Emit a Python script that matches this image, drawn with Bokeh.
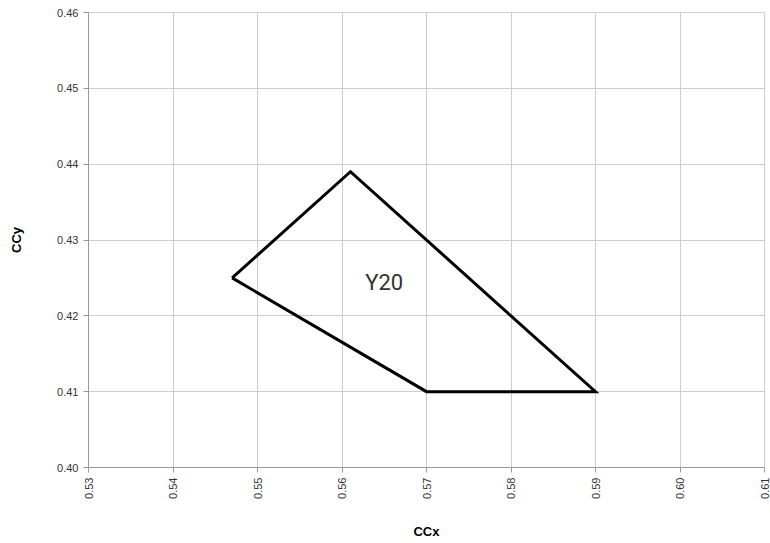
import math
from bokeh.plotting import figure
from bokeh.models import Range1d, FixedTicker, PrintfTickFormatter
from bokeh.core.properties import value
from bokeh.embed import file_html
from bokeh.resources import INLINE

# Data
poly_x = [0.547, 0.561, 0.590, 0.570, 0.547]
poly_y = [0.425, 0.439, 0.410, 0.410, 0.425]
label_text = ["Y20"]
label_x = [0.565]
label_y = [0.4244]
x_ticks = [0.53, 0.54, 0.55, 0.56, 0.57, 0.58, 0.59, 0.60, 0.61]
y_ticks = [0.40, 0.41, 0.42, 0.43, 0.44, 0.45, 0.46]

p = figure(width=770, height=543, output_backend="svg", toolbar_location=None,
           x_range=Range1d(0.53, 0.61), y_range=Range1d(0.40, 0.46),
           min_border_left=88, min_border_right=6, min_border_top=12, min_border_bottom=76)

p.line(poly_x, poly_y, line_color="black", line_width=3, line_join="miter")
p.text(x=label_x, y=label_y, text=label_text, text_font=value("Roboto"),
       text_font_size="22px", text_color="#333333", text_align="center",
       text_baseline="middle")

for ax in (p.xaxis[0], p.yaxis[0]):
    ax.major_label_text_font = "Liberation Sans"
    ax.major_label_text_font_size = "11px"
    ax.major_label_text_color = "#333333"
    ax.axis_line_color = "#999999"
    ax.major_tick_line_color = "#999999"
    ax.major_tick_out = 5
    ax.major_tick_in = 0
    ax.minor_tick_line_color = None
    ax.formatter = PrintfTickFormatter(format="%.2f")
    ax.axis_label_text_font = "Liberation Sans"
    ax.axis_label_text_font_style = "bold"
    ax.axis_label_text_font_size = "13px"
    ax.axis_label_text_color = "#000000"

p.xaxis[0].ticker = FixedTicker(ticks=x_ticks)
p.yaxis[0].ticker = FixedTicker(ticks=y_ticks)
p.xaxis[0].major_label_orientation = math.pi / 2
p.xaxis[0].axis_label = "CCx"
p.yaxis[0].axis_label = "CCy"
p.xaxis[0].axis_label_standoff = 22
p.yaxis[0].axis_label_standoff = 30

p.xgrid.ticker = FixedTicker(ticks=x_ticks)
p.ygrid.ticker = FixedTicker(ticks=y_ticks)
p.grid.grid_line_color = "#cccccc"
p.grid.grid_line_width = 1
p.outline_line_color = "#cccccc"

open("out.html", "w").write(file_html(p, INLINE))
